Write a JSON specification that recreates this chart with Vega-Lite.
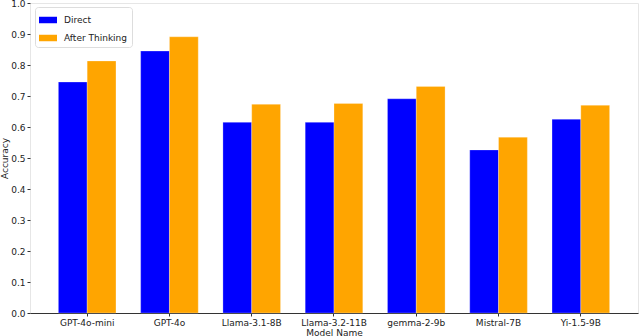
{
  "$schema": "https://vega.github.io/schema/vega-lite/v6.json",
  "autosize": {"type": "none"},
  "width": 608,
  "height": 310,
  "padding": {"left": 30, "top": 3, "right": 2, "bottom": 23},
  "background": "white",
  "config": {
    "font": "DejaVu Sans",
    "view": {"stroke": "#e6e6e6", "strokeWidth": 1}
  },
  "data": {
    "values": [
      {"model": "GPT-4o-mini", "method": "Direct", "accuracy": 0.745},
      {"model": "GPT-4o-mini", "method": "After Thinking", "accuracy": 0.813},
      {"model": "GPT-4o", "method": "Direct", "accuracy": 0.845},
      {"model": "GPT-4o", "method": "After Thinking", "accuracy": 0.891},
      {"model": "Llama-3.1-8B", "method": "Direct", "accuracy": 0.615},
      {"model": "Llama-3.1-8B", "method": "After Thinking", "accuracy": 0.673},
      {"model": "Llama-3.2-11B", "method": "Direct", "accuracy": 0.615},
      {"model": "Llama-3.2-11B", "method": "After Thinking", "accuracy": 0.676},
      {"model": "gemma-2-9b", "method": "Direct", "accuracy": 0.691},
      {"model": "gemma-2-9b", "method": "After Thinking", "accuracy": 0.731},
      {"model": "Mistral-7B", "method": "Direct", "accuracy": 0.526},
      {"model": "Mistral-7B", "method": "After Thinking", "accuracy": 0.567},
      {"model": "Yi-1.5-9B", "method": "Direct", "accuracy": 0.625},
      {"model": "Yi-1.5-9B", "method": "After Thinking", "accuracy": 0.670}
    ]
  },
  "mark": {"type": "bar", "stroke": "white", "strokeOpacity": 0.5, "strokeWidth": 0.5},
  "encoding": {
    "x": {
      "field": "model",
      "type": "nominal",
      "sort": null,
      "scale": {"paddingInner": 0.3, "paddingOuter": 0.345},
      "axis": {
        "title": "Model Name",
        "labelAngle": 0,
        "labelFontSize": 9,
        "labelColor": "#222",
        "titleFontSize": 9,
        "titleFontWeight": "normal",
        "titleColor": "#222",
        "titlePadding": 1,
        "domainColor": "#333",
        "domainWidth": 1,
        "tickColor": "#333",
        "tickSize": 3,
        "labelPadding": 2
      }
    },
    "xOffset": {"field": "method", "type": "nominal", "sort": ["Direct", "After Thinking"]},
    "y": {
      "field": "accuracy",
      "type": "quantitative",
      "scale": {"domain": [0, 1], "nice": false},
      "axis": {
        "title": "Accuracy",
        "values": [0, 0.1, 0.2, 0.3, 0.4, 0.5, 0.6, 0.7, 0.8, 0.9, 1.0],
        "format": ".1f",
        "grid": false,
        "domain": false,
        "labelFontSize": 9,
        "labelColor": "#222",
        "titleFontSize": 9,
        "titleFontWeight": "normal",
        "titleColor": "#222",
        "titlePadding": 1,
        "tickColor": "#333",
        "tickSize": 3,
        "labelPadding": 2
      }
    },
    "color": {
      "field": "method",
      "type": "nominal",
      "sort": ["Direct", "After Thinking"],
      "scale": {"domain": ["Direct", "After Thinking"], "range": ["#0000ff", "#ffa500"]},
      "legend": {
        "title": null,
        "orient": "none",
        "legendX": 5,
        "legendY": 4,
        "padding": 4,
        "strokeColor": "#dddddd",
        "fillColor": "white",
        "cornerRadius": 3,
        "symbolType": "M-1,-0.36L1,-0.36L1,0.36L-1,0.36Z",
        "symbolSize": 324,
        "symbolStrokeWidth": 0,
        "symbolOpacity": 1,
        "labelFontSize": 9,
        "labelColor": "#222",
        "labelOffset": 7,
        "rowPadding": 4
      }
    }
  }
}
